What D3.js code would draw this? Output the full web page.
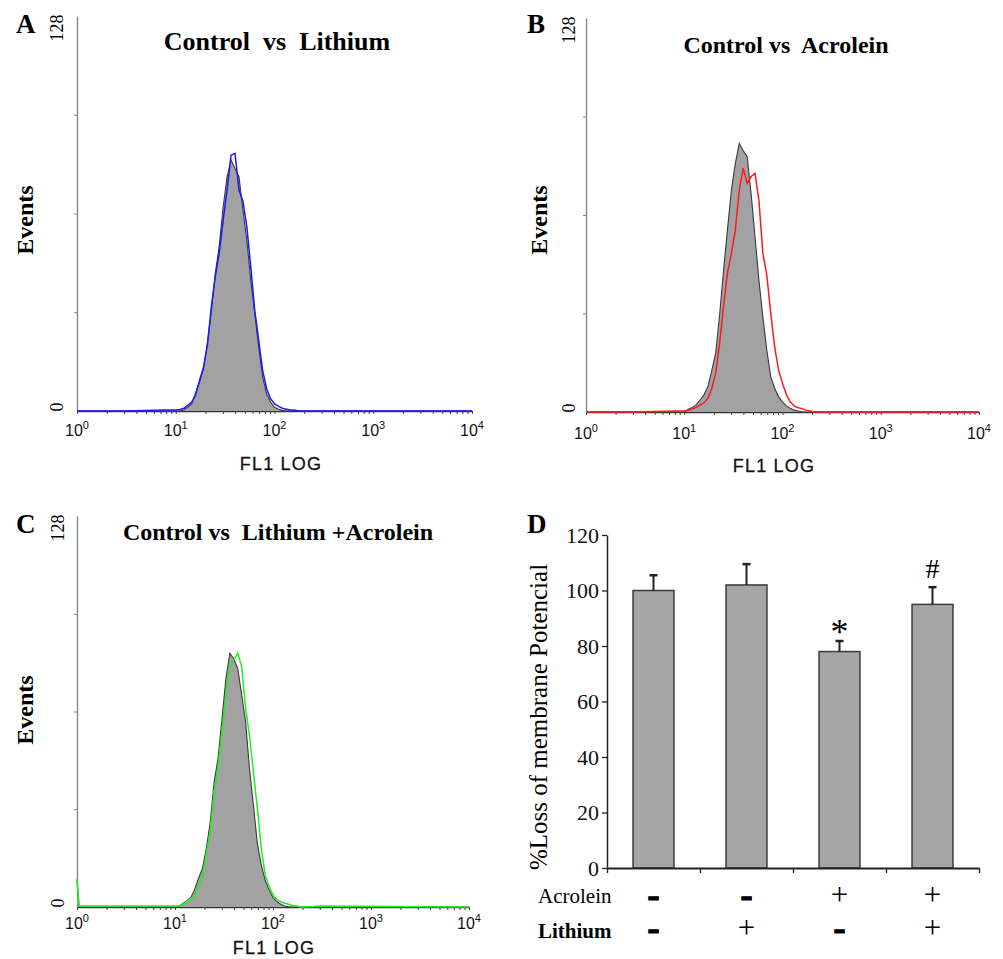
<!DOCTYPE html>
<html>
<head>
<meta charset="utf-8">
<script src="https://cdnjs.cloudflare.com/ajax/libs/d3/7.8.5/d3.min.js"></script>
<style>
  body { margin: 0; background: #fff; }
  svg { display: block; }
</style>
</head>
<body>
<svg width="1003" height="959"></svg>
<script>
// FL1 channel positions (log scale), shared by all three histograms
var fl1Channels = [1, 1.05, 3, 7.9,
  10.0, 11.0, 12.0, 13.2, 14.5, 15.8, 17.4, 19.1, 20.9, 22.9,
  25.1, 27.5, 30.2, 33.1, 36.3, 39.8, 43.7, 47.9, 52.5, 57.5,
  63.1, 69.2, 75.9, 83.2, 91.2, 100, 110, 120, 132, 145,
  158, 174, 191, 209, 300, 10000];

// event counts per channel
var controlA = [0, 0, 0, 0,
  0, 0, 0.3, 1.2, 2.3, 5.6, 9.4, 13.7, 22.0, 32.0,
  44.5, 53.2, 66.1, 75.9, 81.3, 78.6, 75.9, 65.1, 55.3, 42.3,
  31.5, 20.7, 11.0, 5.6, 2.9, 1.2, 0.6, 0.2, 0, 0,
  0, 0, 0, 0, 0, 0];
var lithiumA = [0, 0, 0, 0.3,
  0.3, 0.5, 0.8, 1.8, 2.9, 5.0, 9.9, 14.2, 21.3, 33.7,
  43.4, 51.0, 61.8, 71.6, 82.9, 83.5, 71.6, 68.0, 59.6, 46.7,
  32.6, 22.9, 13.1, 7.2, 4.0, 2.3, 1.5, 0.9, 0.6, 0.3,
  0.3, 0, 0, 0, 0, 0];

var controlB = [0, 0, 0, 0,
  0, 0.9, 1.5, 2.3, 3.9, 5.5, 8.2, 13.6, 19.1, 31.5,
  45.8, 59.1, 72.1, 80.8, 87.3, 84.9, 83.0, 71.0, 57.0, 42.9,
  31.0, 20.1, 11.5, 7.7, 5.0, 3.3, 1.9, 1.2, 0.6, 0.3,
  0, 0, 0, 0, 0, 0];
var acroleinB = [0, 0, 0, 0.3,
  0.3, 0.6, 1.0, 1.5, 2.2, 3.0, 4.4, 7.7, 12.6, 22.3,
  34.2, 45.1, 51.6, 59.1, 72.1, 79.2, 74.3, 76.5, 77.5, 68.9,
  51.6, 44.5, 32.1, 21.2, 13.6, 9.3, 5.5, 3.3, 1.9, 1.4,
  1.1, 0.6, 0.3, 0, 0, 0];

var controlC = [9, 0, 0, 0,
  0, 0.3, 1.2, 2.0, 3.1, 5.6, 9.4, 12.7, 19.2, 27.9,
  41.0, 48.7, 61.8, 74.9, 83.1, 81.2, 78.1, 69.4, 60.7, 45.4,
  33.4, 20.8, 13.8, 8.8, 5.6, 3.1, 1.7, 0.9, 0.3, 0,
  0, 0, 0, 0, 0, 0];
var lithiumAcroleinC = [9, 0.3, 0.3, 0.3,
  0.3, 0.3, 0.9, 1.7, 2.8, 3.6, 6.7, 10.5, 17.6, 24.7,
  37.8, 45.9, 57.4, 69.4, 78.7, 80.9, 83.1, 78.7, 65.0, 56.3,
  44.3, 32.3, 19.2, 10.5, 6.7, 3.9, 2.3, 1.7, 1.2, 0.9,
  0.5, 0.3, 0, 0, 0.3, 0];

var decadeValues = [1, 10, 100, 1000, 10000];
var decadeExponents = ["0", "1", "2", "3", "4"];

// panel D
var groups = ["Control", "Lithium", "Acrolein", "Lithium+Acrolein"];
var meanPct = [100, 102, 78, 95];
var errPct = [5.5, 7.5, 3.8, 6.2];
var signifMarks = ["", "", "*", "#"];
var acroleinRow = ["\u2013", "\u2013", "+", "+"];
var lithiumRow = ["\u2013", "+", "\u2013", "+"];
var pctTicks = [0, 20, 40, 60, 80, 100, 120];

var SERIF = "'Liberation Serif', 'Times New Roman', serif";
var SANS = "'Liberation Sans', Arial, sans-serif";

var svg = d3.select("svg");

function drawHistogram(p) {
    var x = d3.scaleLog().domain([1, 10000]).range([p.left, p.right]);
    var y = d3.scaleLinear().domain([0, 128]).range([p.bottom, p.top]);
    var g = svg.append("g");

    // y axis (grey, quarter ticks)
    var yAxis = g.append("g")
        .attr("transform", "translate(" + p.left + ",0)")
        .call(d3.axisLeft(y).tickValues([32, 64, 96]).tickSize(3).tickSizeOuter(0).tickFormat(""));
    yAxis.select(".domain").attr("stroke", "#808080").attr("stroke-width", 1.3);
    yAxis.selectAll(".tick line").attr("stroke", "#808080");

    // x axis (log ticks)
    var xAxis = g.append("g")
        .attr("transform", "translate(0," + p.bottom + ")")
        .call(d3.axisBottom(x).tickValues(x.ticks()).tickSize(3).tickSizeOuter(0).tickFormat(""));
    xAxis.select(".domain").attr("stroke", "#333").attr("stroke-width", 1.3);
    xAxis.selectAll(".tick line").attr("stroke", "#444");

    var ctrl = fl1Channels.map(function(c, i) { return {fl1: c, n: p.control[i]}; });
    var trt = fl1Channels.map(function(c, i) { return {fl1: c, n: p.treated[i]}; });

    var area = d3.area()
        .x(function(d) { return x(d.fl1); })
        .y0(y(0))
        .y1(function(d) { return y(d.n); });
    var line = d3.line()
        .x(function(d) { return x(d.fl1); })
        .y(function(d) { return y(d.n); });

    g.append("path").datum(ctrl).attr("d", area).attr("fill", "#a2a2a2");
    g.append("path").datum(ctrl).attr("d", line)
        .attr("fill", "none").attr("stroke", "#3a3a3a").attr("stroke-width", 1.1);
    g.append("path").datum(trt).attr("d", line)
        .attr("fill", "none").attr("stroke", p.color).attr("stroke-width", 1.5);

    // decade labels
    var lab = g.selectAll(".dec").data(decadeValues).enter().append("text")
        .attr("class", "dec")
        .attr("x", function(d) { return x(d); })
        .attr("y", p.labelY)
        .attr("text-anchor", "middle")
        .style("font-family", SANS)
        .style("font-size", "16px")
        .attr("fill", "#111");
    lab.append("tspan").text("10");
    lab.append("tspan").attr("dy", -7).style("font-size", "11px")
        .text(function(d, i) { return decadeExponents[i]; });

    g.append("text")
        .attr("x", p.fl1X).attr("y", p.fl1Y)
        .attr("text-anchor", "middle")
        .style("font-family", SANS).style("font-size", "18px")
        .style("letter-spacing", "1.2px")
        .attr("fill", "#111")
        .attr("stroke", "#111").attr("stroke-width", 0.3)
        .text("FL1 LOG");

    g.append("text")
        .attr("transform", "translate(" + p.eventsX + "," + p.eventsY + ") rotate(-90)")
        .attr("text-anchor", "middle")
        .style("font-family", SERIF).style("font-size", "24px").style("font-weight", "bold")
        .text("Events");

    g.append("text")
        .attr("transform", "translate(" + p.numX + "," + (p.top + 12) + ") rotate(-90)")
        .attr("text-anchor", "middle")
        .style("font-family", SERIF).style("font-size", "18px")
        .text("128");
    g.append("text")
        .attr("transform", "translate(" + p.numX + "," + (p.bottom - 4) + ") rotate(-90)")
        .attr("text-anchor", "middle")
        .style("font-family", SERIF).style("font-size", "18px")
        .text("0");

    g.append("text")
        .attr("x", p.titleX).attr("y", p.titleY)
        .attr("text-anchor", "middle")
        .style("white-space", "pre")
        .style("font-family", SERIF).style("font-size", p.titleSize + "px").style("font-weight", "bold")
        .text(p.title);

    g.append("text")
        .attr("x", p.letterX).attr("y", p.letterY)
        .style("font-family", SERIF).style("font-size", "27px").style("font-weight", "bold")
        .text(p.letter);
}

drawHistogram({
    left: 77, right: 472, top: 16, bottom: 411,
    control: controlA, treated: lithiumA, color: "#1a1aff",
    labelY: 436, fl1X: 281, fl1Y: 470, eventsX: 33, eventsY: 220, numX: 63,
    title: "Control  vs  Lithium", titleX: 277, titleY: 50, titleSize: 26,
    letter: "A", letterX: 16, letterY: 33
});
drawHistogram({
    left: 586, right: 979, top: 18, bottom: 412,
    control: controlB, treated: acroleinB, color: "#ff1a1a",
    labelY: 439, fl1X: 774, fl1Y: 472, eventsX: 547, eventsY: 220, numX: 575,
    title: "Control vs  Acrolein", titleX: 786, titleY: 53, titleSize: 24,
    letter: "B", letterX: 527, letterY: 33
});
drawHistogram({
    left: 77, right: 469, top: 516, bottom: 907,
    control: controlC, treated: lithiumAcroleinC, color: "#22ee22",
    labelY: 929, fl1X: 274, fl1Y: 954, eventsX: 33, eventsY: 710, numX: 64,
    title: "Control vs  Lithium +Acrolein", titleX: 278, titleY: 540, titleSize: 24,
    letter: "C", letterX: 16, letterY: 533
});

// ---- panel D: bar chart ----
var dLeft = 607, dRight = 979, dTop = 535, dBottom = 868;
var yD = d3.scaleLinear().domain([0, 120]).range([dBottom, dTop]);
var xD = d3.scaleBand().domain(groups).range([dLeft, dRight])
    .paddingInner(0.56).paddingOuter(0.28);
var xEdges = d3.scaleLinear().domain([0, groups.length]).range([dLeft, dRight]);

var gD = svg.append("g");

gD.selectAll(".bar").data(groups).enter().append("rect")
    .attr("class", "bar")
    .attr("x", function(d) { return xD(d); })
    .attr("y", function(d, i) { return yD(meanPct[i]); })
    .attr("width", xD.bandwidth())
    .attr("height", function(d, i) { return yD(0) - yD(meanPct[i]); })
    .attr("fill", "#a6a6a6")
    .attr("stroke", "#3a3a3a")
    .attr("stroke-width", 1.5);

var err = gD.selectAll(".err").data(groups).enter().append("g").attr("class", "err");
err.append("line")
    .attr("x1", function(d) { return xD(d) + xD.bandwidth() / 2; })
    .attr("x2", function(d) { return xD(d) + xD.bandwidth() / 2; })
    .attr("y1", function(d, i) { return yD(meanPct[i]); })
    .attr("y2", function(d, i) { return yD(meanPct[i] + errPct[i]); })
    .attr("stroke", "#222").attr("stroke-width", 2);
err.append("line")
    .attr("x1", function(d) { return xD(d) + xD.bandwidth() / 2 - 4; })
    .attr("x2", function(d) { return xD(d) + xD.bandwidth() / 2 + 4; })
    .attr("y1", function(d, i) { return yD(meanPct[i] + errPct[i]); })
    .attr("y2", function(d, i) { return yD(meanPct[i] + errPct[i]); })
    .attr("stroke", "#222").attr("stroke-width", 2.5);

gD.selectAll(".mark").data(groups).enter().append("text")
    .attr("class", "mark")
    .attr("x", function(d) { return xD(d) + xD.bandwidth() / 2; })
    .attr("y", function(d, i) {
        return signifMarks[i] === "*" ? yD(meanPct[i] + errPct[i]) + 3 : yD(meanPct[i] + errPct[i]) - 9;
    })
    .attr("text-anchor", "middle")
    .style("font-family", SERIF)
    .style("font-size", function(d, i) { return signifMarks[i] === "*" ? "36px" : "28px"; })
    .text(function(d, i) { return signifMarks[i]; });

var yAxisD = gD.append("g")
    .attr("transform", "translate(" + dLeft + ",0)")
    .call(d3.axisLeft(yD).tickValues(pctTicks).tickSize(5).tickPadding(3).tickSizeOuter(0));
yAxisD.selectAll("text").style("font-family", SERIF).style("font-size", "22px").attr("fill", "#111");
yAxisD.select(".domain").attr("stroke", "#222").attr("stroke-width", 1.5);
yAxisD.selectAll(".tick line").attr("stroke", "#222").attr("stroke-width", 1.3);

var xAxisD = gD.append("g")
    .attr("transform", "translate(0," + dBottom + ")")
    .call(d3.axisBottom(xEdges).tickValues(d3.range(groups.length + 1)).tickSize(5).tickSizeOuter(0).tickFormat(""));
xAxisD.select(".domain").attr("stroke", "#222").attr("stroke-width", 1.8);
xAxisD.selectAll(".tick line").attr("stroke", "#222").attr("stroke-width", 1.3);

gD.append("text")
    .attr("transform", "translate(547,717) rotate(-90)")
    .attr("text-anchor", "middle")
    .style("font-family", SERIF).style("font-size", "25px")
    .text("%Loss of membrane Potencial");

gD.append("text")
    .attr("x", 527).attr("y", 533)
    .style("font-family", SERIF).style("font-size", "27px").style("font-weight", "bold")
    .text("D");

gD.append("text").attr("x", 538).attr("y", 903)
    .style("font-family", SERIF).style("font-size", "21px")
    .text("Acrolein");
gD.append("text").attr("x", 538).attr("y", 938)
    .style("font-family", SERIF).style("font-size", "21px").style("font-weight", "bold")
    .text("Lithium");

function drawSignRow(row, centerY) {
    gD.selectAll(null).data(row).enter().append("text")
        .attr("x", function(d, i) { return xD(groups[i]) + xD.bandwidth() / 2; })
        .attr("y", centerY + 8)
        .attr("text-anchor", "middle")
        .style("font-family", function(d) { return d === "+" ? SERIF : "'DejaVu Sans', sans-serif"; })
        .style("font-size", function(d) { return d === "+" ? "31px" : "24px"; })
        .style("font-weight", function(d) { return d === "+" ? "normal" : "bold"; })
        .attr("stroke", function(d) { return d === "+" ? "none" : "#000"; })
        .attr("stroke-width", 1.2)
        .text(function(d) { return d; });
}
drawSignRow(acroleinRow, 897);
drawSignRow(lithiumRow, 930);
</script>
</body>
</html>
